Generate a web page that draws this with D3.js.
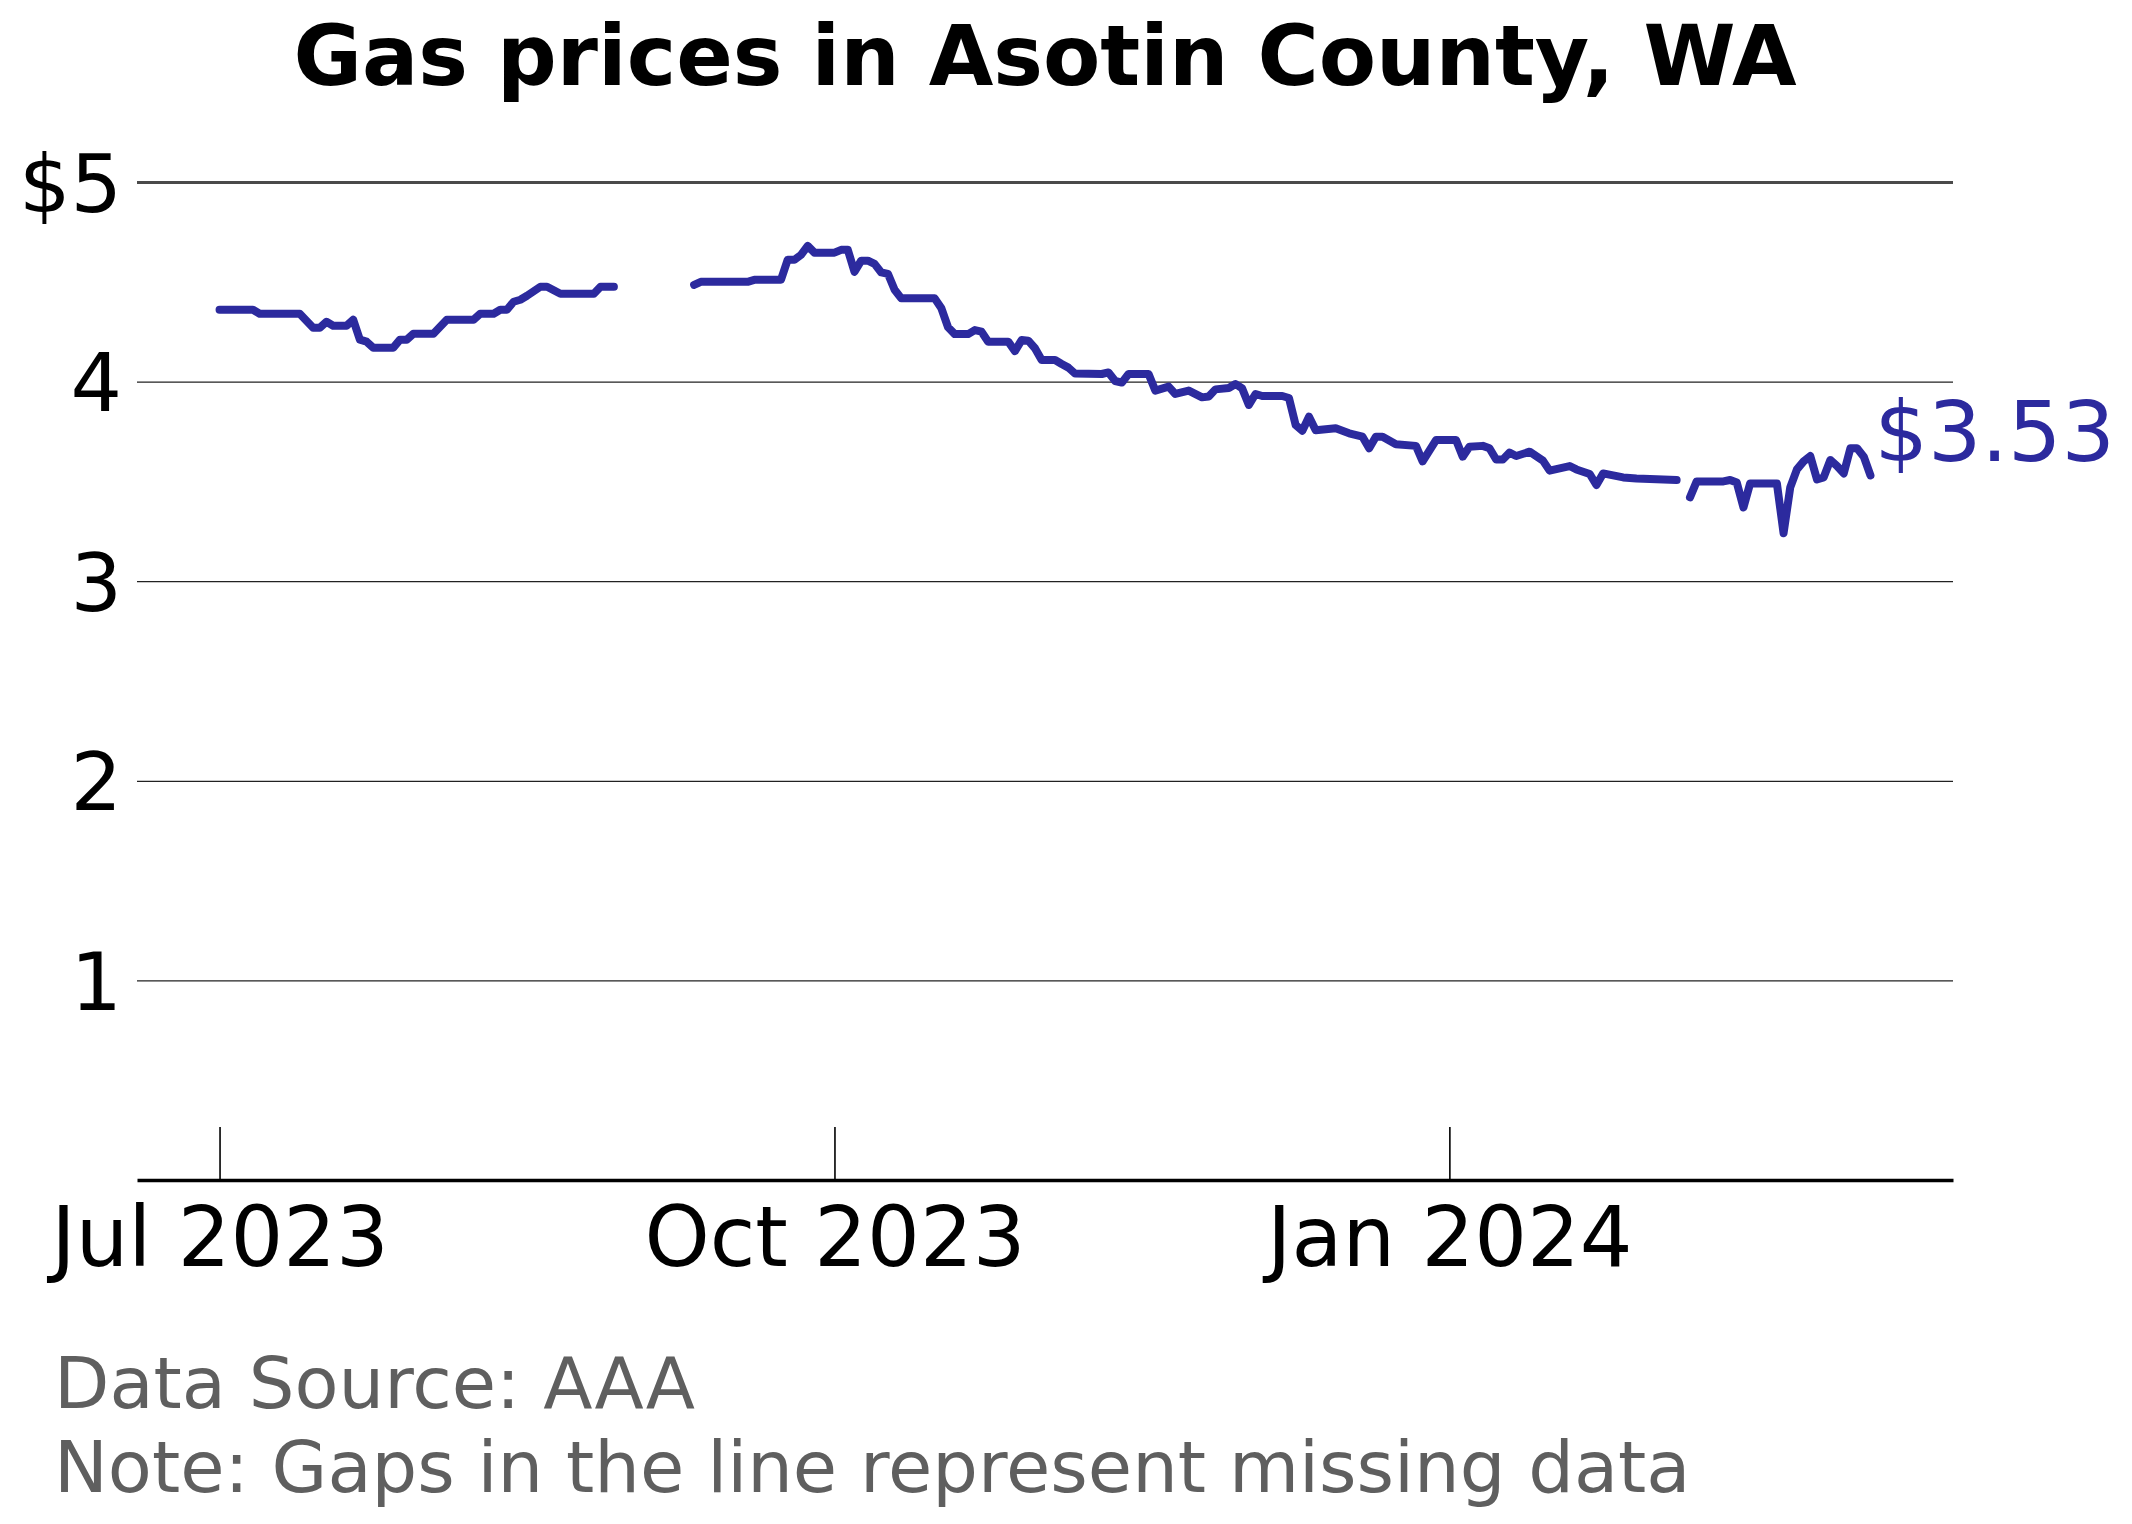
<!DOCTYPE html>
<html>
<head>
<meta charset="utf-8">
<script src="https://cdn.jsdelivr.net/npm/d3@7"></script>
<style>
  body { margin: 0; background: #fff; }
  text { font-family: "DejaVu Sans", sans-serif; }
</style>
</head>
<body>
<div id="chart"></div>
<script>
// daily AAA average regular price, null = missing day (gap)
const dates = [
  "2023-07-01","2023-07-06","2023-07-07","2023-07-13","2023-07-15","2023-07-16","2023-07-17","2023-07-18",
  "2023-07-20","2023-07-21","2023-07-22","2023-07-23","2023-07-24","2023-07-27","2023-07-28","2023-07-29",
  "2023-07-30","2023-08-02","2023-08-04","2023-08-08","2023-08-09","2023-08-11","2023-08-12","2023-08-13",
  "2023-08-14","2023-08-15","2023-08-16","2023-08-18","2023-08-19","2023-08-21","2023-08-26","2023-08-27",
  "2023-08-29","2023-08-30",
  "2023-09-10","2023-09-11","2023-09-18","2023-09-19","2023-09-23","2023-09-24","2023-09-25","2023-09-26",
  "2023-09-27","2023-09-28","2023-10-01","2023-10-02","2023-10-03","2023-10-04","2023-10-05","2023-10-06",
  "2023-10-07","2023-10-08","2023-10-09","2023-10-10","2023-10-11","2023-10-16","2023-10-17","2023-10-18",
  "2023-10-19","2023-10-21","2023-10-22","2023-10-23","2023-10-24","2023-10-27","2023-10-28","2023-10-29",
  "2023-10-30","2023-10-31","2023-11-01","2023-11-03","2023-11-04","2023-11-05","2023-11-06","2023-11-10",
  "2023-11-11","2023-11-12","2023-11-13","2023-11-14","2023-11-17","2023-11-18","2023-11-20","2023-11-21",
  "2023-11-23","2023-11-25","2023-11-26","2023-11-27","2023-11-29","2023-11-30","2023-12-01","2023-12-02",
  "2023-12-03","2023-12-04","2023-12-07","2023-12-08","2023-12-09","2023-12-10","2023-12-11","2023-12-12",
  "2023-12-15","2023-12-17","2023-12-19","2023-12-20","2023-12-21","2023-12-22","2023-12-24","2023-12-27",
  "2023-12-28","2023-12-30","2024-01-02","2024-01-03","2024-01-04","2024-01-06","2024-01-07","2024-01-08",
  "2024-01-09","2024-01-10","2024-01-11","2024-01-13","2024-01-15","2024-01-16","2024-01-19","2024-01-20",
  "2024-01-22","2024-01-23","2024-01-24","2024-01-27","2024-01-29","2024-02-04","2024-02-05",
  "2024-02-06","2024-02-07","2024-02-11","2024-02-12","2024-02-13","2024-02-14","2024-02-15","2024-02-19",
  "2024-02-20","2024-02-21","2024-02-22","2024-02-23","2024-02-24","2024-02-25","2024-02-26","2024-02-27",
  "2024-02-28","2024-02-29","2024-03-01","2024-03-02","2024-03-03","2024-03-04"
];
const prices = [
  4.36,4.36,4.34,4.34,4.27,4.27,4.30,4.28,
  4.28,4.31,4.21,4.20,4.17,4.17,4.21,4.21,
  4.24,4.24,4.31,4.31,4.34,4.34,4.36,4.36,
  4.40,4.41,4.43,4.475,4.475,4.44,4.44,4.475,
  4.475,null,
  4.485,4.50,4.50,4.51,4.51,4.61,4.61,4.635,
  4.68,4.646,4.646,4.66,4.66,4.55,4.606,4.606,
  4.59,4.547,4.54,4.46,4.417,4.417,4.367,4.272,
  4.238,4.238,4.258,4.25,4.20,4.20,4.153,4.208,
  4.205,4.167,4.108,4.108,4.088,4.07,4.04,4.038,
  4.046,4.003,3.995,4.038,4.038,3.955,3.975,3.938,
  3.955,3.921,3.925,3.961,3.968,3.988,3.966,3.883,
  3.938,3.928,3.928,3.918,3.783,3.754,3.824,3.756,
  3.766,3.741,3.724,3.666,3.724,3.724,3.686,3.678,
  3.60,3.707,3.707,3.624,3.674,3.678,3.666,3.61,
  3.61,3.644,3.627,3.649,3.604,3.554,3.577,3.56,
  3.537,3.482,3.54,3.52,3.515,3.507,null,
  3.42,3.50,3.50,3.507,3.494,3.37,3.49,3.49,
  3.24,3.47,3.56,3.60,3.627,3.51,3.52,3.607,
  3.577,3.54,3.666,3.666,3.624,3.53
];
const yTicks = [1, 2, 3, 4, 5];
const yTickLabels = ["1", "2", "3", "4", "$5"];
const xTickDates = ["2023-07-01", "2023-10-01", "2024-01-01"];
const xTickLabels = ["Jul 2023", "Oct 2023", "Jan 2024"];
const title = "Gas prices in Asotin County, WA";
const notes = ["Data Source: AAA", "Note: Gaps in the line represent missing data"];

const W = 2132, H = 1524,
    left = 137, right = 1953, bottom = 1180,
    lineColor = "#2c2a9e";

const parse = d3.timeParse("%Y-%m-%d");
const data = dates.map((d, i) => ({date: parse(d), value: prices[i]}));

const svg = d3.select("#chart").append("svg")
    .attr("width", W).attr("height", H)
    .style("background", "#fff");

// matplotlib-like 5% margins on the time axis
const ext = d3.extent(data, d => d.date);
const pad = (ext[1] - ext[0]) * 0.05;
const x = d3.scaleTime()
    .domain([new Date(+ext[0] - pad), new Date(+ext[1] + pad)])
    .range([left, right]);
const y = d3.scaleLinear().domain([0, 5]).range([bottom, 182]);

// gridlines + y labels
const yAxis = svg.append("g")
    .attr("transform", "translate(" + left + ",0)")
    .call(d3.axisLeft(y)
        .tickValues(yTicks)
        .tickFormat((d, i) => yTickLabels[i])
        .tickSize(-(right - left))
        .tickPadding(15));
yAxis.select(".domain").remove();
yAxis.selectAll(".tick line")
    .attr("stroke", d => d === 5 ? "#4a4a4a" : "#222")
    .attr("stroke-width", d => d === 5 ? 3 : 1.3);
yAxis.selectAll(".tick text")
    .attr("font-size", 81)
    .attr("font-family", "DejaVu Sans")
    .attr("fill", "#000")
    .attr("dy", "0.36em");

// bottom axis, ticks pointing up
const xAxis = svg.append("g")
    .attr("transform", "translate(0," + bottom + ")")
    .call(d3.axisBottom(x)
        .tickValues(xTickDates.map(parse))
        .tickFormat((d, i) => xTickLabels[i])
        .tickSizeInner(-53)
        .tickSizeOuter(0));
xAxis.select(".domain").attr("stroke", "#000").attr("stroke-width", 3.5);
xAxis.selectAll(".tick line").attr("stroke", "#000").attr("stroke-width", 1.6);
xAxis.selectAll(".tick text")
    .attr("font-size", 83)
    .attr("font-family", "DejaVu Sans")
    .attr("fill", "#000")
    .attr("y", 86)
    .attr("dy", 0);

// price line with gaps
const line = d3.line()
    .defined(d => d.value !== null)
    .x(d => x(d.date))
    .y(d => y(d.value));

svg.append("path")
    .datum(data)
    .attr("d", line)
    .attr("fill", "none")
    .attr("stroke", lineColor)
    .attr("stroke-width", 8)
    .attr("stroke-linejoin", "round")
    .attr("stroke-linecap", "round");

// last value label
const last = data[data.length - 1];
svg.append("text")
    .attr("x", x(last.date) + 4)
    .attr("y", y(last.value) - 14)
    .attr("font-size", 84)
    .attr("fill", lineColor)
    .text("$" + last.value.toFixed(2));

svg.append("text")
    .attr("x", (left + right) / 2)
    .attr("y", 85)
    .attr("text-anchor", "middle")
    .attr("font-size", 83.5)
    .attr("font-weight", "bold")
    .text(title);

svg.selectAll(".note")
    .data(notes)
    .enter()
    .append("text")
    .attr("class", "note")
    .attr("x", 54)
    .attr("y", (d, i) => 1408 + i * 84)
    .attr("font-size", 72)
    .attr("fill", "#5f5f5f")
    .text(d => d);
</script>
</body>
</html>
